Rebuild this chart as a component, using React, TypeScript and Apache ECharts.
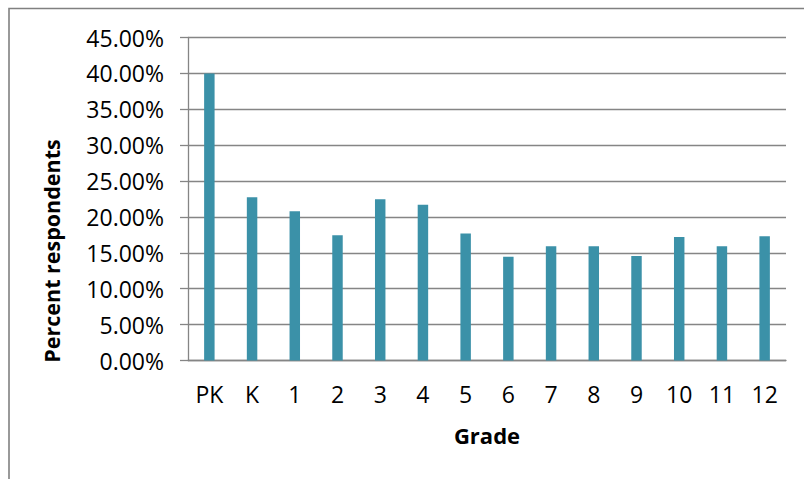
import React, { useEffect, useRef } from "react";
import * as echarts from "echarts";

// Grade levels along the category axis
const grades: string[] = ["PK", "K", "1", "2", "3", "4", "5", "6", "7", "8", "9", "10", "11", "12"];

// Share of respondents per grade, in percent
const percentRespondents: number[] = [
  40.0, 22.75, 20.8, 17.45, 22.45, 21.7, 17.7, 14.45, 15.9, 15.9, 14.55, 17.2, 15.9, 17.3,
];

// Value axis range and step (percent)
const yMin = 0;
const yMax = 45;
const yStep = 5;

const xTitle = "Grade";
const yTitle = "Percent respondents";

const FONT = "'Open Sans', 'Noto Sans', sans-serif";
const GRID_GRAY = "#858585";
const BAR_COLOR = "#3b91a8";

export default function App() {
  const ref = useRef<HTMLDivElement>(null);

  useEffect(() => {
    if (!ref.current) return;
    const chart = echarts.init(ref.current, undefined, { renderer: "svg" });
    chart.setOption({
      animation: false,
      backgroundColor: "#ffffff",
      grid: { left: 188, right: 18, top: 37.5, bottom: 118.5, containLabel: false },
      xAxis: {
        type: "category",
        data: grades,
        axisLine: { lineStyle: { color: GRID_GRAY, width: 1.3 } },
        axisTick: { show: false },
        axisLabel: {
          color: "#000000",
          fontFamily: FONT,
          fontSize: 23,
          margin: 22,
        },
      },
      yAxis: {
        type: "value",
        min: yMin,
        max: yMax,
        interval: yStep,
        axisLine: { show: true, lineStyle: { color: GRID_GRAY, width: 1.3 } },
        axisTick: { show: true, inside: false, length: 8, lineStyle: { color: GRID_GRAY, width: 1.3 } },
        splitLine: { show: true, lineStyle: { color: GRID_GRAY, width: 1.3 } },
        axisLabel: {
          color: "#000000",
          fontFamily: FONT,
          fontSize: 23,
          margin: 24,
          formatter: (v: number) => v.toFixed(2) + "%",
        },
      },
      series: [
        {
          type: "bar",
          data: percentRespondents,
          barWidth: "24.5%",
          itemStyle: { color: BAR_COLOR },
        },
      ],
      graphic: [
        {
          type: "rect",
          shape: { x: 9, y: 8.5, width: 900, height: 600 },
          style: { fill: "none", stroke: "#808080", lineWidth: 1.6 },
          silent: true,
        },
        {
          type: "text",
          x: 487,
          y: 435,
          style: {
            text: xTitle,
            font: `bold 22px ${FONT}`,
            fill: "#000000",
            align: "center",
            verticalAlign: "middle",
          },
        },
        {
          type: "text",
          x: 51,
          y: 251,
          rotation: Math.PI / 2,
          style: {
            text: yTitle,
            font: `bold 21.5px ${FONT}`,
            fill: "#000000",
            align: "center",
            verticalAlign: "middle",
          },
        },
      ],
    });
    return () => chart.dispose();
  }, []);

  return (
    <div
      ref={ref}
      style={{ position: "absolute", left: 0, top: 0, width: 804, height: 479 }}
    />
  );
}
